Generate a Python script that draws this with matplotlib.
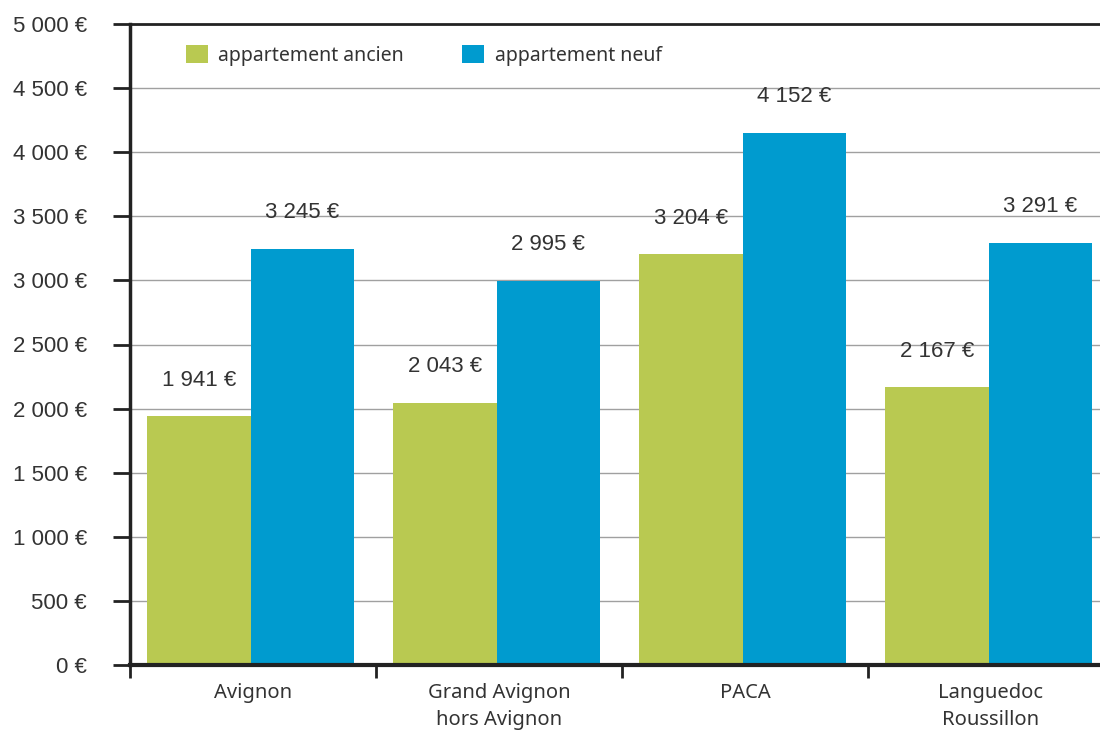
import numpy as np
import matplotlib.pyplot as plt
from matplotlib.ticker import FixedLocator

categories = ["Avignon", "Grand Avignon\nhors Avignon", "PACA", "Languedoc\nRoussillon"]
ancien = [1941, 2043, 3204, 2167]
neuf = [3245, 2995, 4152, 3291]
yticks = list(range(0, 5001, 500))

green = "#B9C951"
blue = "#009BCF"
txt = "#333333"

def euro(v):
    return f"{v:,}".replace(",", " ") + " €"

fig = plt.figure(figsize=(11, 7.31), dpi=100)
ax = fig.add_axes([130 / 1100, 66 / 731, 970 / 1100, 641 / 731])

x = np.arange(len(categories))
w = 0.42
ax.bar(x - 0.01, ancien, width=-w, align="edge", color=green, zorder=2, label="appartement ancien")
ax.bar(x - 0.01, neuf, width=w, align="edge", color=blue, zorder=2, label="appartement neuf")

for xi, v in zip(x, ancien):
    ax.annotate(euro(v), (xi - 0.01 - w / 2, v), xytext=(0, 26), textcoords="offset points",
                ha="center", va="center", fontsize=16, color=txt, family="Liberation Sans")
for xi, v in zip(x, neuf):
    ax.annotate(euro(v), (xi - 0.01 + w / 2, v), xytext=(0, 26), textcoords="offset points",
                ha="center", va="center", fontsize=16, color=txt, family="Liberation Sans")

ax.set_ylim(0, 5000)
ax.set_xlim(-0.5, -0.5 + 970 / 246)
ax.set_yticks(yticks)
ax.set_yticklabels([euro(v) for v in yticks], family="Liberation Sans", fontsize=16, color=txt)
ax.yaxis.grid(True, color="#a0a0a0", lw=1, zorder=0)
ax.tick_params(axis="y", length=12, width=2, pad=19, color="#222222")

ax.set_xticks(x)
ax.set_xticklabels(categories, fontsize=14.5, color=txt, family="Noto Sans", linespacing=1.45)
ax.xaxis.set_minor_locator(FixedLocator([-0.5, 0.5, 1.5, 2.5, 3.5]))
ax.tick_params(axis="x", which="major", length=0, pad=13)
ax.tick_params(axis="x", which="minor", length=9, width=2, color="#222222", direction="out")

ax.spines["right"].set_visible(False)
ax.spines["left"].set_linewidth(2.5)
ax.spines["bottom"].set_linewidth(3)
ax.spines["top"].set_linewidth(2)
for s in ["left", "bottom", "top"]:
    ax.spines[s].set_color("#222222")

leg = ax.legend(loc="upper left", bbox_to_anchor=(0.040, 0.995), ncol=2, frameon=False,
                prop={"family": "Noto Sans", "size": 14}, handlelength=1.1, handleheight=1.1,
                columnspacing=3.0, handletextpad=0.55)
for t in leg.get_texts():
    t.set_color(txt)

fig.savefig("out.png", dpi=100)
